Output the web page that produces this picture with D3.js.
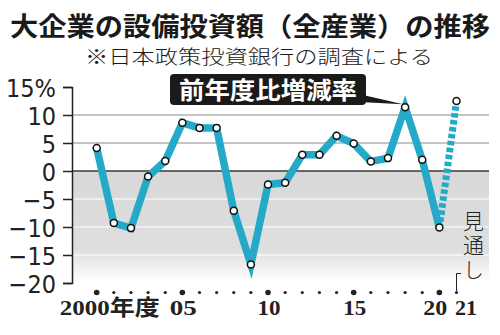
<!DOCTYPE html>
<html lang="ja">
<head>
<meta charset="utf-8">
<script src="https://d3js.org/d3.v7.min.js"></script>
<style>
  body { margin: 0; background: #fff; }
  svg { display: block; }
</style>
</head>
<body>
<svg id="chart" width="500" height="335"></svg>
<script>
// data
var years = [2000, 2001, 2002, 2003, 2004, 2005, 2006, 2007, 2008, 2009, 2010,
             2011, 2012, 2013, 2014, 2015, 2016, 2017, 2018, 2019, 2020, 2021];
var values = [4.1, -9.3, -10.2, -1.0, 1.8, 8.6, 7.7, 7.7, -7.1, -16.7, -2.4,
              -2.1, 2.9, 2.9, 6.3, 4.9, 1.7, 2.3, 11.4, 2.0, -10.1, 12.5];
var yTicks = [15, 10, 5, 0, -5, -10, -15, -20];
var xLabels = [
  {year: 2000, text: "2000年度"},
  {year: 2005, text: "05"},
  {year: 2010, text: "10"},
  {year: 2015, text: "15"},
  {year: 2020, text: "20"},
  {year: 2021, text: "21"}
];
var title = "大企業の設備投資額（全産業）の推移";
var subtitle = "※日本政策投資銀行の調査による";
var seriesLabel = "前年度比増減率";
var forecastLabel = "見通し";

var svg = d3.select("#chart");
var left = 72, right = 489;

var x = d3.scaleLinear().domain([2000, 2021]).range([96.7, 456.5]);
var y = d3.scaleLinear().domain([-20, 15]).range([283, 87]);

var defs = svg.append("defs");
var grad = defs.append("linearGradient").attr("id", "fade")
  .attr("x1", 0).attr("x2", 0).attr("y1", 0).attr("y2", 1);
grad.append("stop").attr("offset", "0%").attr("stop-color", "#d8d8d8");
grad.append("stop").attr("offset", "70%").attr("stop-color", "#dedede");
grad.append("stop").attr("offset", "100%").attr("stop-color", "#ffffff");

// title
svg.append("text").attr("x", 250).attr("y", 35.5)
  .attr("text-anchor", "middle")
  .style("font-family", "'Noto Sans CJK JP'").style("font-weight", 700)
  .style("font-size", "26px").attr("fill", "#1a1a1a")
  .attr("textLength", 480).attr("lengthAdjust", "spacingAndGlyphs")
  .text(title);
svg.append("text").attr("x", 259).attr("y", 64)
  .attr("text-anchor", "middle")
  .style("font-family", "'Noto Sans CJK JP'").style("font-weight", 300)
  .style("font-size", "19px").attr("fill", "#1a1a1a")
  .attr("textLength", 348).attr("lengthAdjust", "spacingAndGlyphs")
  .text(subtitle);

// negative area
svg.append("rect").attr("x", left).attr("y", y(0))
  .attr("width", right - left).attr("height", y(-20) - y(0))
  .attr("fill", "url(#fade)");

// grid
svg.selectAll(".grid").data(yTicks.filter(function (d) { return d !== 15 && d !== -20; }))
  .enter().append("line")
  .attr("x1", left).attr("x2", right)
  .attr("y1", function (d) { return y(d); }).attr("y2", function (d) { return y(d); })
  .attr("stroke", function (d) { return d > 0 ? "#8a8a8a" : (d === 0 ? "#3a3a3a" : "#ffffff"); })
  .attr("stroke-width", function (d) { return d === 0 ? 1.3 : 1.2; });

// y axis
var yAxis = d3.axisLeft(y).tickValues(yTicks).tickSize(9)
  .tickFormat(function (d) { return d === 15 ? "15%" : String(d).replace("-", "−"); });
var ya = svg.append("g").attr("transform", "translate(" + left + ",0)").call(yAxis);
ya.select(".domain").attr("stroke", "#222").attr("stroke-width", 1.5);
ya.selectAll(".tick line").attr("stroke", "#222").attr("stroke-width", 1.5);
ya.selectAll(".tick text").attr("fill", "#222")
  .style("font-family", "'Liberation Sans Narrow', 'DejaVu Sans Condensed', sans-serif")
  .style("font-size", "25px").attr("dy", "0.36em")
  .attr("x", -16);

// x axis dots
svg.selectAll(".xdot").data(years).enter().append("circle")
  .attr("cx", function (d) { return x(d); }).attr("cy", 292.5)
  .attr("r", function (d) { return d % 5 === 0 ? 2.8 : 1.6; })
  .attr("fill", "#222");

var labelWidth = {2000: 100, 2005: 27, 2010: 23, 2015: 23, 2020: 24, 2021: 22};
var labelShift = {2000: 13, 2005: 1, 2010: 1, 2015: 1, 2020: -4, 2021: 9.5};
svg.selectAll(".xlab").data(xLabels).enter().append("text")
  .attr("x", function (d) { return x(d.year) + labelShift[d.year]; }).attr("y", 315)
  .attr("text-anchor", "middle")
  .style("font-family", "'Liberation Serif', 'DejaVu Serif', 'Noto Sans CJK JP', serif")
  .style("font-weight", 700).style("font-size", "22px").attr("fill", "#222")
  .attr("textLength", function (d) { return labelWidth[d.year]; })
  .attr("lengthAdjust", "spacingAndGlyphs")
  .text(function (d) { return d.text; });

// forecast bracket and label
var bx = x(2021);
svg.append("path")
  .attr("d", d3.line()([[bx + 4.5, 273.5], [bx, 273.5], [bx, 291]]))
  .attr("fill", "none").attr("stroke", "#222").attr("stroke-width", 1);
svg.append("text")
  .attr("x", bx + 17).attr("y", 211)
  .style("writing-mode", "vertical-rl")
  .style("font-family", "'Noto Sans CJK JP'").style("font-weight", 300)
  .style("font-size", "21px").style("letter-spacing", "3px").attr("fill", "#222")
  .text(forecastLabel);

// series
var pts = years.map(function (d, i) { return [x(d), y(values[i])]; });
var line = d3.line();
var n = pts.length;
svg.append("path").attr("d", line(pts.slice(n - 2)))
  .attr("fill", "none").attr("stroke", "#25a9c8").attr("stroke-width", 7)
  .attr("stroke-dasharray", "4.5,2.5").attr("stroke-dashoffset", -6);
svg.append("path").attr("d", line(pts.slice(0, n - 1)))
  .attr("fill", "none").attr("stroke", "#25a9c8").attr("stroke-width", 7.5)
  .attr("stroke-linejoin", "miter");

svg.selectAll(".pt").data(pts).enter().append("circle")
  .attr("cx", function (d) { return d[0]; }).attr("cy", function (d) { return d[1]; })
  .attr("r", 3.5).attr("fill", "#fff").attr("stroke", "#111").attr("stroke-width", 1.5);

// series label box with pointer
var peak = pts[years.indexOf(2018)];
var lab = svg.append("g");
lab.append("path")
  .attr("d", d3.line()([[350, 92], [peak[0] - 2, peak[1] - 3], [340, 101]]))
  .attr("fill", "#1a1a1a");
lab.append("rect").attr("x", 170).attr("y", 74).attr("width", 196).attr("height", 31)
  .attr("rx", 4).attr("fill", "#1a1a1a");
lab.append("text").attr("x", 268).attr("y", 99).attr("text-anchor", "middle")
  .style("font-family", "'Noto Sans CJK JP'").style("font-weight", 700)
  .style("font-size", "24px").attr("fill", "#fff")
  .attr("textLength", 178).attr("lengthAdjust", "spacingAndGlyphs")
  .text(seriesLabel);
</script>
</body>
</html>
